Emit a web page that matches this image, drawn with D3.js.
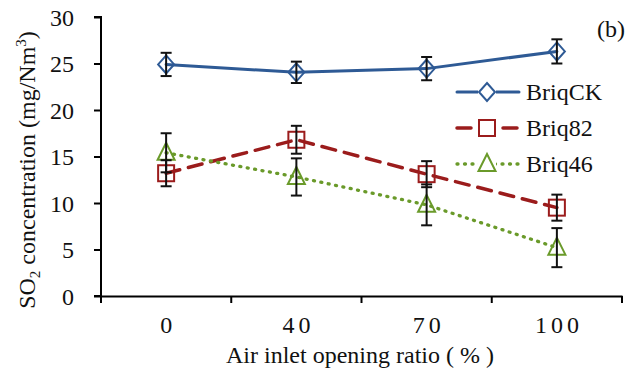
<!DOCTYPE html>
<html><head><meta charset="utf-8">
<script src="https://cdn.jsdelivr.net/npm/d3@7"></script>
<style>body{margin:0;background:#fff}svg{display:block}</style>
</head><body><div id="chart"></div>
<script>
const categories = ["0", "40", "70", "100"];
const seriesNames = ["BriqCK", "Briq82", "Briq46"];
const briqCK = [24.9, 24.05, 24.45, 26.3];
const briqCKErr = [1.25, 1.15, 1.25, 1.3];
const briq82 = [13.2, 16.8, 13.1, 9.5];
const briq82Err = [1.4, 1.5, 1.4, 1.4];
const briq46 = [15.4, 12.8, 9.8, 5.2];
const briq46Err = [2.1, 2.0, 2.2, 2.1];
const yTicks = [0, 5, 10, 15, 20, 25, 30];

const FONT = "Liberation Serif";
const FS = 24;
const W = 643, H = 374;
const m = {l: 101, r: 21, t: 17, b: 78};
const svg = d3.select("#chart").append("svg").attr("width", W).attr("height", H)
  .attr("font-family", FONT);
const x = d3.scaleBand().domain(categories).range([m.l, W - m.r]);
const y = d3.scaleLinear().domain([0, 30]).range([H - m.b, m.t]);

const series = [
  {name: seriesNames[0], v: briqCK, e: briqCKErr, color: "#2E5A95", dash: null, w: 3, sym: "diamond"},
  {name: seriesNames[1], v: briq82, e: briq82Err, color: "#9B1C1C", dash: "14,9", w: 3.5, sym: "square"},
  {name: seriesNames[2], v: briq46, e: briq46Err, color: "#6A9A2A", dash: "1,6.5", w: 3.3, sym: "triangle"}
];

function marker(g, s, cx, cy) {
  if (s.sym === "diamond") {
    g.append("path").attr("d", `M${cx},${cy-9}L${cx+8},${cy}L${cx},${cy+9}L${cx-8},${cy}Z`)
      .attr("fill", "none").attr("stroke", s.color).attr("stroke-width", 2);
  } else if (s.sym === "square") {
    g.append("rect").attr("x", cx - 8).attr("y", cy - 8).attr("width", 16).attr("height", 16)
      .attr("fill", "none").attr("stroke", s.color).attr("stroke-width", 2);
  } else {
    g.append("path").attr("d", `M${cx},${cy-10}L${cx+8.5},${cy+7}L${cx-8.5},${cy+7}Z`)
      .attr("fill", "none").attr("stroke", s.color).attr("stroke-width", 2);
  }
}

// axes
const yAxis = svg.append("g").attr("transform", `translate(${m.l},0)`)
  .call(d3.axisLeft(y).tickValues(yTicks).tickSize(7).tickPadding(20));
const xAxis = svg.append("g").attr("transform", `translate(0,${H - m.b})`)
  .call(d3.axisBottom(x).tickSize(0).tickPadding(20));
[yAxis, xAxis].forEach(a => {
  a.attr("font-family", FONT).attr("font-size", FS);
  a.select(".domain").attr("stroke", "#000").attr("stroke-width", 2);
  a.selectAll(".tick line").attr("stroke", "#000").attr("stroke-width", 2);
  a.selectAll("text").attr("fill", "#111");
});
yAxis.selectAll("text").attr("dy", "0.34em");
yAxis.select(".domain").attr("d", `M-7,${y(30)}H0V${y(0)}H-7`);
xAxis.selectAll("text").attr("letter-spacing", "4px").attr("dx", 2);
// category boundary ticks on x
const bounds = categories.map(c => x(c)).concat([x.range()[1]]);
xAxis.selectAll(".bt").data(bounds).enter().append("line")
  .attr("x1", d => d).attr("x2", d => d).attr("y1", 0).attr("y2", 7)
  .attr("stroke", "#000").attr("stroke-width", 2);

// titles
svg.append("text").attr("x", 360).attr("y", 363).attr("text-anchor", "middle")
  .attr("font-size", FS).attr("fill", "#111").text("Air inlet opening ratio ( % )");
const yt = svg.append("text").attr("transform", `translate(35,170) rotate(-90)`)
  .attr("text-anchor", "middle").attr("font-size", FS).attr("fill", "#111");
yt.append("tspan").text("SO");
yt.append("tspan").attr("dy", 5).attr("font-size", 15).text("2");
yt.append("tspan").attr("dy", -5).text(" concentration (mg/Nm");
yt.append("tspan").attr("dy", -9).attr("font-size", 15).text("3");
yt.append("tspan").attr("dy", 9).text(")");

svg.append("text").attr("x", 597).attr("y", 37).attr("font-size", FS).attr("fill", "#111").text("(b)");

const cx = c => x(c) + x.bandwidth() / 2;
const line = d3.line().x(d => cx(d.c)).y(d => y(d.v));

// lines
series.forEach(s => {
  const pts = categories.map((c, i) => ({c, v: s.v[i]}));
  svg.append("path").datum(pts).attr("d", line).attr("fill", "none")
    .attr("stroke", s.color).attr("stroke-width", s.w)
    .attr("stroke-dasharray", s.dash).attr("stroke-linecap", "round");
});
// markers
series.forEach(s => {
  const g = svg.append("g");
  categories.forEach((c, i) => marker(g, s, cx(c), y(s.v[i])));
});
// error bars
series.forEach(s => {
  const g = svg.append("g");
  categories.forEach((c, i) => {
    const px = cx(c), y1 = y(s.v[i] + s.e[i]), y2 = y(s.v[i] - s.e[i]);
    g.append("line").attr("x1", px).attr("x2", px).attr("y1", y1).attr("y2", y2).attr("stroke", "#111").attr("stroke-width", 2);
    [y1, y2].forEach(yy => g.append("line").attr("x1", px - 5.5).attr("x2", px + 5.5).attr("y1", yy).attr("y2", yy).attr("stroke", "#111").attr("stroke-width", 2));
  });
});

// legend
const lg = svg.append("g");
series.forEach((s, i) => {
  const ly = 92 + i * 36;
  lg.append("line").attr("x1", 457).attr("x2", 519).attr("y1", ly).attr("y2", ly)
    .attr("stroke", s.color).attr("stroke-width", s.w).attr("stroke-dasharray", s.dash).attr("stroke-linecap", "round");
  lg.append("rect").attr("x", 478).attr("y", ly - 11).attr("width", 18).attr("height", 22).attr("fill", "#fff");
  marker(lg, s, 487, ly);
  lg.append("text").attr("x", 526).attr("y", ly + 8).attr("font-size", FS).attr("fill", "#111").text(s.name);
});
</script></body></html>
